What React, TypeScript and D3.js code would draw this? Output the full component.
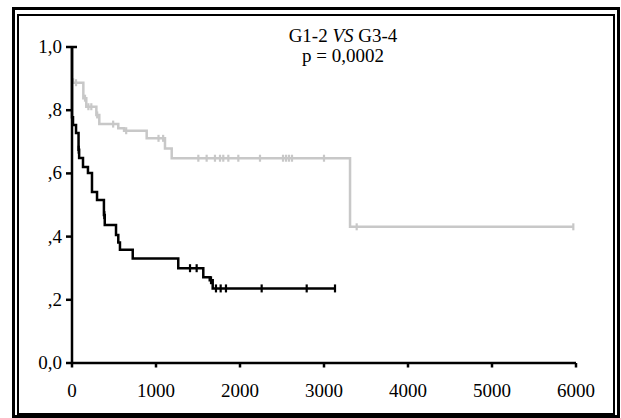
import * as d3 from 'd3';

// Kaplan-Meier curves: G1-2 (grey) vs G3-4 (black)
const blackTimes = [0, 0, 12, 48, 78, 85, 131, 190, 238, 298, 380, 390, 524, 551, 571, 723, 1265, 1563, 1640, 1675, 3131];
const blackSurv = [1.0, 0.778, 0.753, 0.728, 0.675, 0.649, 0.62, 0.601, 0.541, 0.516, 0.468, 0.437, 0.405, 0.381, 0.358, 0.331, 0.3, 0.271, 0.262, 0.236, 0.236];
const blackCensored = [80, 385, 1405, 1484, 1655, 1714, 1770, 1833, 2258, 2794, 3131];

const greyTimes = [0, 12, 135, 170, 290, 325, 551, 620, 889, 1107, 1187, 3310, 5968];
const greySurv = [0.897, 0.887, 0.838, 0.811, 0.785, 0.756, 0.743, 0.735, 0.711, 0.679, 0.648, 0.431, 0.431];
const greyCensored = [48, 155, 195, 230, 300, 490, 645, 1030, 1085, 1504, 1603, 1702, 1762, 1801, 1861, 1980, 2238, 2512, 2548, 2583, 2619, 3000, 3389, 5968];

const xTicks = [0, 1000, 2000, 3000, 4000, 5000, 6000];
const yTicks = [0, 0.2, 0.4, 0.6, 0.8, 1.0];
const yTickLabels = ['0,0', ',2', ',4', ',6', ',8', '1,0'];

const W = 621;
const H = 418;
const FONT = '"Liberation Serif", "Times New Roman", "DejaVu Serif", serif';

const x = d3.scaleLinear().domain([0, 6000]).range([72, 576]);
const y = d3.scaleLinear().domain([0, 1]).range([363, 47]);

function survAt(times: number[], surv: number[], t: number): number {
  let s = surv[0];
  for (let i = 0; i < times.length; i++) {
    if (times[i] <= t) s = surv[i];
  }
  return s;
}

const line = d3
  .line<[number, number]>()
  .x((d) => x(d[0]))
  .y((d) => y(d[1]))
  .curve(d3.curveStepAfter);

function Curve({ times, surv, censored, color, tick }: {
  times: number[];
  surv: number[];
  censored: number[];
  color: string;
  tick: number;
}) {
  const pts = times.map((t, i) => [t, surv[i]] as [number, number]);
  return (
    <g>
      <path d={line(pts) ?? ''} fill="none" stroke={color} strokeWidth={2.5} />
      {censored.map((t, i) => {
        const cx = x(t);
        const cy = y(survAt(times, surv, t));
        return (
          <line key={i} x1={cx} x2={cx} y1={cy - tick} y2={cy + tick} stroke={color} strokeWidth={2.2} />
        );
      })}
    </g>
  );
}

export default function App() {
  return (
    <svg
      width={W}
      height={H}
      style={{ position: 'absolute', left: 0, top: 0, background: '#fff' }}
      fontFamily={FONT}
    >
      <rect x={0} y={0} width={W} height={H} fill="#fff" />
      {/* double frame */}
      <rect x={13.5} y={8.5} width={605} height={408} fill="none" stroke="#000" strokeWidth={3} />
      <rect x={18} y={15} width={596} height={399} fill="none" stroke="#000" strokeWidth={2} />

      {/* title */}
      <text x={343} y={42} textAnchor="middle" fontSize={19} fill="#000">
        G1-2 <tspan fontStyle="italic">VS</tspan> G3-4
      </text>
      <text x={343} y={62} textAnchor="middle" fontSize={19} fill="#000">
        p = 0,0002
      </text>

      <Curve times={greyTimes} surv={greySurv} censored={greyCensored} color="#c8c8c8" tick={3.5} />
      <Curve times={blackTimes} surv={blackSurv} censored={blackCensored} color="#000" tick={4} />

      {/* y axis */}
      <line x1={x(0)} x2={x(0)} y1={y(1)} y2={y(0)} stroke="#000" strokeWidth={2.5} />
      {yTicks.map((v, i) => (
        <g key={i}>
          <line
            x1={x(0) - 6}
            x2={v === 1 ? x(0) + 5 : x(0)}
            y1={y(v)}
            y2={y(v)}
            stroke="#000"
            strokeWidth={2.5}
          />
          <text x={62} y={y(v) + 6} textAnchor="end" fontSize={19} fill="#000">
            {yTickLabels[i]}
          </text>
        </g>
      ))}

      {/* x axis */}
      <line x1={x(0) - 1} x2={x(6000)} y1={y(0)} y2={y(0)} stroke="#000" strokeWidth={2.5} />
      {xTicks.map((v) => (
        <g key={v}>
          <line x1={x(v)} x2={x(v)} y1={y(0)} y2={y(0) + 4.5} stroke="#000" strokeWidth={2.5} />
          <text x={x(v)} y={397} textAnchor="middle" fontSize={19} fill="#000">
            {v}
          </text>
        </g>
      ))}
    </svg>
  );
}
